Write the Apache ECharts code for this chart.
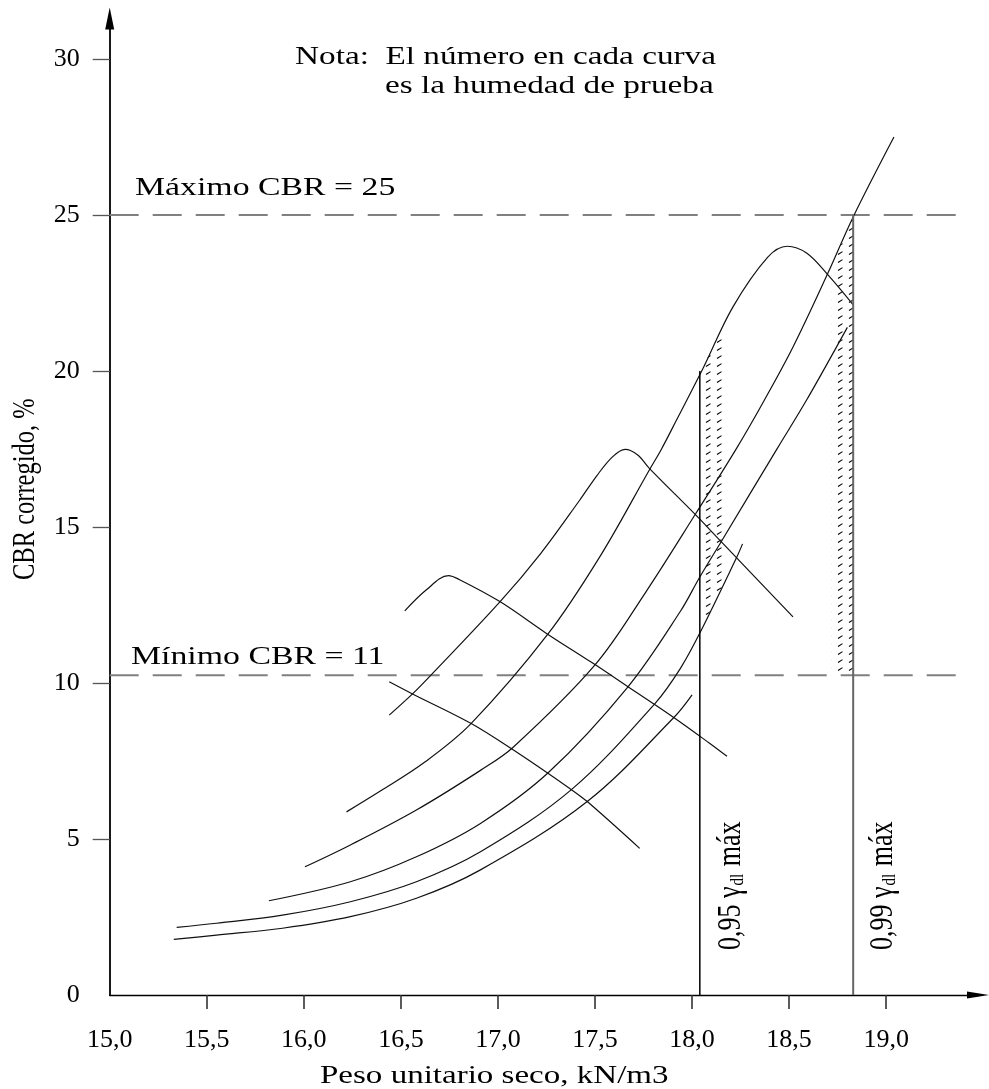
<!DOCTYPE html>
<html><head><meta charset="utf-8">
<script src="https://cdn.jsdelivr.net/npm/echarts@6/dist/echarts.min.js"></script>
<style>html,body{margin:0;padding:0;background:#fff}#c{width:989px;height:1089px}</style>
</head><body><div id="c"></div>
<script>
// ---- tick values ----
const xTickValues = [15.5, 16, 16.5, 17, 17.5, 18, 18.5, 19];
const xLabelValues = [15, 15.5, 16, 16.5, 17, 17.5, 18, 18.5, 19];
const yTickValues = [5, 10, 15, 20, 25, 30];
const yLabelValues = [0, 5, 10, 15, 20, 25, 30];

// ---- curves [peso unitario seco, CBR] ----
const curveE9 = [[15.33,1.78],[15.55,1.92],[15.89,2.14],[16.24,2.51],[16.58,3.10],[16.91,4.01],[17.46,6.20],[17.91,8.92],[18.00,9.62]];
const curveE14 = [[15.345,2.17],[15.55,2.30],[15.89,2.56],[16.24,2.99],[16.58,3.63],[16.91,4.59],[17.38,6.59],[17.81,9.35],[17.94,10.47],[18.04,11.6],[18.23,14.03],[18.26,14.46]];
const curveT = [[15.82,3.02],[16.24,3.63],[16.58,4.43],[16.91,5.50],[17.26,7.13],[17.67,9.88],[17.94,12.3],[18.04,13.4],[18.15,14.53],[18.44,17.53],[18.59,19.07],[18.80,21.4]];
const curveS = [[16.006,4.11],[16.24,4.81],[16.58,5.93],[16.91,7.2],[17.08,7.95],[17.50,10.58],[17.76,12.9],[18.02,15.44],[18.23,17.53],[18.37,19.04],[18.52,20.77],[18.70,23.14],[18.83,24.94],[19.04,27.5]];
const curveP24 = [[16.22,5.87],[16.39,6.52],[16.62,7.45],[16.86,8.69],[17.26,11.59],[17.53,14.1],[17.78,16.83],[17.84,17.47],[17.92,18.43],[18.06,20.13],[18.21,22.05],[18.39,23.65],[18.49,24.0],[18.59,23.78],[18.70,23.08],[18.83,22.12]];
const curveP17 = [[16.44,8.97],[16.56,9.65],[16.65,10.22],[17.01,12.6],[17.22,14.15],[17.42,15.85],[17.51,16.65],[17.59,17.25],[17.655,17.49],[17.72,17.31],[17.78,16.88],[18.02,15.38],[18.15,14.53],[18.52,12.12]];
const curveP13 = [[16.52,12.31],[16.63,12.98],[16.745,13.44],[16.80,13.32],[17.01,12.61],[17.25,11.59],[17.49,10.63],[17.67,9.88],[17.90,8.92],[18.09,8.07],[18.18,7.65]];
const curveD10 = [[16.44,10.04],[16.56,9.65],[16.86,8.71],[17.08,7.85],[17.37,6.62],[17.46,6.20],[17.73,4.70]];
const curves = [curveE9, curveE14, curveT, curveS, curveP24, curveP17, curveP13, curveD10];

// ---- reference lines ----
const maxCBR = 25, minCBR = 10.25, dashEndX = 19.39;
const gamma95 = 18.04, gamma95Top = 20.0;
const gamma99 = 18.83, gamma99Top = 25.0;

// ---- hatched zones ----
const bandLeft = [[18.04,11.6],[18.18,13.4],[18.18,21.5],[18.04,20.0]];
const bandRight = [[18.72,10.25],[18.83,10.25],[18.83,24.94],[18.72,23.4]];

const hatch = document.createElement('canvas');
hatch.width = 11; hatch.height = 8;
(function(){ const c = hatch.getContext('2d'); c.strokeStyle = '#000'; c.lineWidth = 1.1; c.beginPath(); c.moveTo(2,6.5); c.lineTo(6.5,3.6); c.stroke(); })();

const FONT = '"Liberation Serif", "Times New Roman", serif';
const chart = echarts.init(document.getElementById('c'), null, {renderer: 'canvas'});

const series = [];
function band(poly){
  return {type:'custom', coordinateSystem:'cartesian2d', silent:true, z:1, data:[poly[0]],
    renderItem:(params, api)=>({type:'polygon', shape:{points: poly.map(p=>api.coord(p))},
      style:{fill:{image:hatch, repeat:'repeat'}, stroke:null}})};
}
series.push(band(bandLeft), band(bandRight));
curves.forEach(c => series.push({type:'line', data:c, symbol:'none', smooth:0.35, silent:true, z:3,
  lineStyle:{color:'#111', width:1.2}}));
series.push({type:'line', data:[[15,maxCBR],[dashEndX,maxCBR]], symbol:'none', silent:true, z:2, lineStyle:{color:'#808080', width:2, type:[29,14]}});
series.push({type:'line', data:[[15,minCBR],[dashEndX,minCBR]], symbol:'none', silent:true, z:2, lineStyle:{color:'#808080', width:2, type:[29,14]}});
series.push({type:'line', data:[[gamma95,0],[gamma95,gamma95Top]], symbol:'none', silent:true, z:3, lineStyle:{color:'#000', width:1.5}});
series.push({type:'line', data:[[gamma99,0],[gamma99,gamma99Top]], symbol:'none', silent:true, z:3, lineStyle:{color:'#666', width:2}});

const fmt = v => v.toFixed(1).replace('.', ',');
function txt(x, baseline, size, text, sx){
  return {type:'text', x:x, y:baseline - 0.3375*size, scaleX:sx, silent:true,
    style:{text:text, fill:'#000', fontSize:size, fontFamily:FONT, align:'left', verticalAlign:'middle'}};
}
function vtxt(baselineX, startY, size, text, sy, rich){
  return {type:'text', x:baselineX - 0.3375*size*sy, y:startY, rotation:Math.PI/2, scaleY:sy, silent:true,
    style:{text:text, fill:'#000', fontSize:size, fontFamily:FONT, align:'left', verticalAlign:'middle', rich:rich}};
}
const subRich = {s:{fontSize:15, fontFamily:FONT, fill:'#000', padding:[9,1,0,1]}};

chart.setOption({
  animation:false,
  backgroundColor:'#fff',
  grid:{left:109.7, right:11, top:18.5, bottom:94, containLabel:false, outerBoundsMode:'none'},
  xAxis:{type:'value', min:15, max:19.473,
    axisLine:{show:true, onZero:false, lineStyle:{color:'#000', width:1.4}, symbol:['none','triangle'], symbolSize:[7,22]},
    axisTick:{show:true, customValues:xTickValues, length:14, lineStyle:{color:'#333', width:1.6}},
    axisLabel:{customValues:xLabelValues, formatter:fmt, margin:32, fontSize:26, fontFamily:FONT, color:'#000'},
    splitLine:{show:false}},
  yAxis:{type:'value', min:0, max:31.3,
    axisLine:{show:true, onZero:false, lineStyle:{color:'#000', width:1.8}, symbol:['none','triangle'], symbolSize:[9,22]},
    axisTick:{show:true, customValues:yTickValues, length:17, lineStyle:{color:'#555', width:1.3}},
    axisLabel:{customValues:yLabelValues, margin:30, fontSize:26, fontFamily:FONT, color:'#000'},
    splitLine:{show:false}},
  series:series,
  graphic:[
    txt(295, 65.5, 25, 'Nota:  El número en cada curva', 1.33),
    txt(385, 95, 25, 'es la humedad de prueba', 1.33),
    txt(135, 197.3, 26, 'Máximo CBR = 25', 1.3),
    txt(131, 665.7, 26, 'Mínimo CBR = 11', 1.3),
    txt(320, 1085, 26, 'Peso unitario seco, kN/m3', 1.27),
    vtxt(36.7, 580, 24.5, 'CBR corregido, %', 1.3),
    vtxt(743, 950, 26, '0,95 γ{s|dl} máx', 1.3, subRich),
    vtxt(895, 950, 26, '0,99 γ{s|dl} máx', 1.3, subRich)
  ]
});
</script></body></html>
